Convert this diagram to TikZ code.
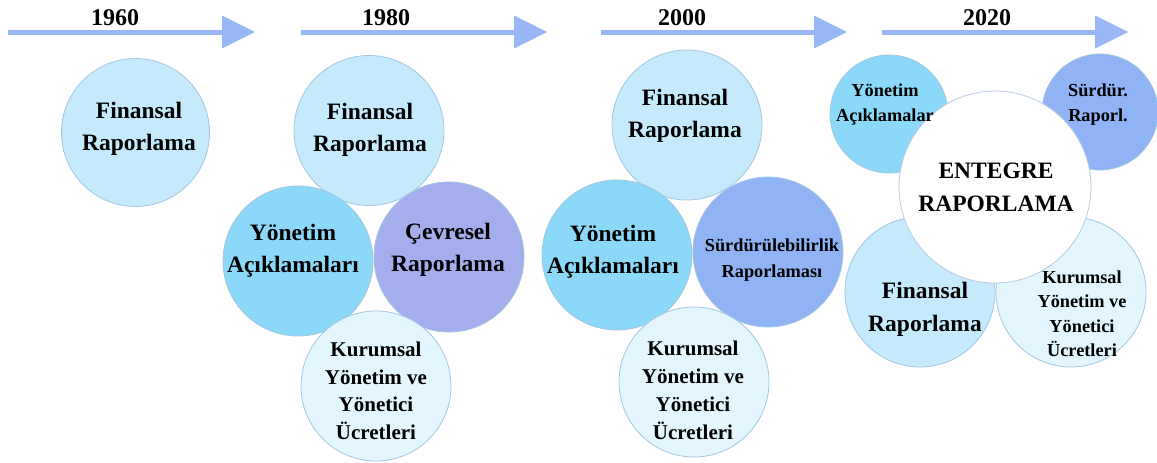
\documentclass[tikz,border=0pt]{standalone}
\usepackage{fontspec}
\setmainfont{Liberation Serif}
\usetikzlibrary{arrows.meta,calc}

\definecolor{arrowblue}{HTML}{97B7F5}
\definecolor{finfill}{HTML}{C4EAFC}
\definecolor{yonfill}{HTML}{8CD8F8}
\definecolor{cevfill}{HTML}{A5AEEC}
\definecolor{surfill}{HTML}{8FB3F5}
\definecolor{kurfill}{HTML}{E3F5FD}
\definecolor{rim}{HTML}{A4C6E0}
\definecolor{entrim}{HTML}{B9C9E2}

\tikzset{
  timeline/.style={draw=arrowblue, line width=5pt,
    -{Triangle[length=33pt,width=33pt,line width=0pt]}},
  year/.style={font=\fontsize{24}{28}\selectfont\bfseries},
  bubble/.style={circle, inner sep=0pt, draw=rim, line width=0.8pt, minimum size=150pt},
  bigtxt/.style={align=center, font=\fontsize{23.5}{32}\selectfont\bfseries},
  midtxt/.style={align=center, font=\fontsize{21}{27.5}\selectfont\bfseries},
  smalltxt/.style={align=center, font=\fontsize{18.3}{25}\selectfont\bfseries},
}

\begin{document}
\begin{tikzpicture}[x=1pt,y=-1pt]
\useasboundingbox (0,0) rectangle (1157,463);

% timeline arrows with their years
\coordinate (s1) at (8,32);    \coordinate (e1) at (255,32);
\coordinate (s2) at (301,32);  \coordinate (e2) at (547,32);
\coordinate (s3) at (601,32);  \coordinate (e3) at (847,32);
\coordinate (s4) at (882,32);  \coordinate (e4) at (1128,32);
\draw[timeline] (s1) -- (e1);
\draw[timeline] (s2) -- (e2);
\draw[timeline] (s3) -- (e3);
\draw[timeline] (s4) -- (e4);
\node[year] (y1960) at (115,18) {1960};
\node[year] (y1980) at (386,18) {1980};
\node[year] (y2000) at (682,18) {2000};
\node[year] (y2020) at (987,18) {2020};

% 1960
\node[bubble, fill=finfill, minimum size=148pt] (fin60) at (135.5,132.5) {};
\node[bigtxt] (fin60t) at (139,129) {Finansal\\Raporlama};

% 1980
\node[bubble, fill=finfill] (fin80) at (369,130.5) {};
\node[bubble, fill=yonfill] (yon80) at (298,261) {};
\node[bubble, fill=cevfill] (cev80) at (449,257) {};
\node[bubble, fill=kurfill] (kur80) at (376,386) {};
\node[bigtxt] (fin80t) at (370,129.5) {Finansal\\Raporlama};
\node[bigtxt] (yon80t) at (293,250.5) {Yönetim\\Açıklamaları};
\node[bigtxt] (cev80t) at (448,250) {Çevresel\\Raporlama};
\node[midtxt] (kur80t) at (376,391) {Kurumsal\\Yönetim ve\\Yönetici\\Ücretleri};

% 2000
\node[bubble, fill=finfill] (fin00) at (687,125) {};
\node[bubble, fill=yonfill] (yon00) at (617,255) {};
\node[bubble, fill=surfill] (sur00) at (768,252) {};
\node[bubble, fill=kurfill] (kur00) at (694,382) {};
\node[bigtxt] (fin00t) at (685,116) {Finansal\\Raporlama};
\node[bigtxt] (yon00t) at (613,252) {Yönetim\\Açıklamaları};
\node[align=center, font=\fontsize{18.3}{26}\selectfont\bfseries] (sur00t) at (772,260) {Sürdürülebilirlik\\Raporlaması};
\node[align=center, font=\fontsize{21}{28}\selectfont\bfseries] (kur00t) at (693,390) {Kurumsal\\Yönetim ve\\Yönetici\\Ücretleri};

% 2020
\node[bubble, fill=yonfill, minimum size=118pt] (yon20) at (889,114) {};
\node[bubble, fill=surfill, minimum size=116pt] (sur20) at (1100,112) {};
\node[bubble, fill=finfill] (fin20) at (920,292) {};
\node[bubble, fill=kurfill] (kur20) at (1071,292) {};
\node[bubble, fill=white, draw=entrim, minimum size=192pt] (ent20) at (995,187) {};
\node[smalltxt] (yon20t) at (885,105) {Yönetim\\Açıklamalar};
\node[smalltxt] (sur20t) at (1098,105) {Sürdür.\\Raporl.};
\node[align=center, font=\fontsize{23.5}{33}\selectfont\bfseries] (fin20t) at (925,309.5) {Finansal\\Raporlama};
\node[align=center, font=\fontsize{18.3}{24.5}\selectfont\bfseries] (kur20t) at (1082,313.5) {Kurumsal\\Yönetim ve\\Yönetici\\Ücretleri};
\node[align=center, font=\fontsize{23.5}{33}\selectfont\bfseries] (ent20t) at (996,187.5) {ENTEGRE\\RAPORLAMA};
\end{tikzpicture}
\end{document}
